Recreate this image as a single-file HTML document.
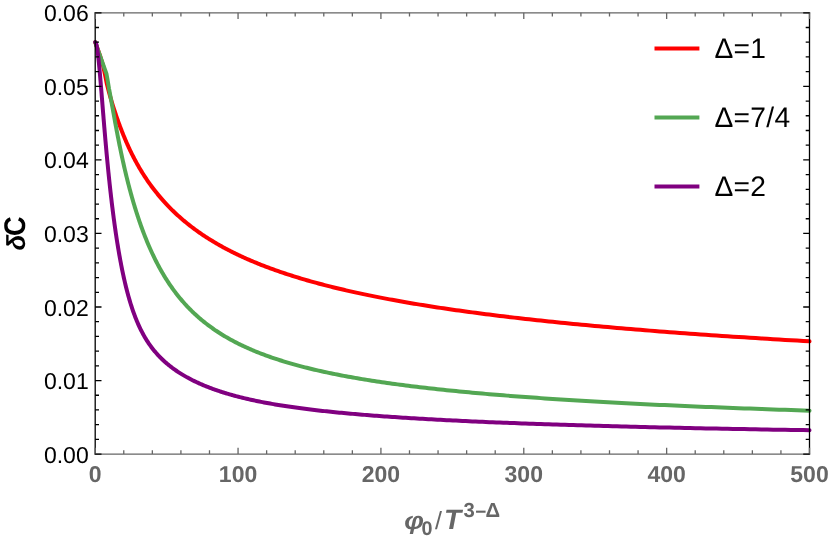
<!DOCTYPE html>
<html><head><meta charset="utf-8"><title>Chart</title>
<style>
html,body{margin:0;padding:0;background:#fff;overflow:hidden;}
svg{display:block;will-change:transform;text-rendering:geometricPrecision;font-family:"Liberation Sans",sans-serif;}
</style></head><body>
<svg width="830" height="541" viewBox="0 0 830 541">
<rect width="830" height="541" fill="#fff"/>
<path d="M95.20,42.20 L100.30,56.50 L103.20,66.00 L105.10,75.00 L106.90,84.00 L108.99,92.24 L109.20,92.98 L109.41,93.73 L109.61,94.47 L109.82,95.22 L110.04,95.96 L110.25,96.71 L110.47,97.46 L110.68,98.21 L110.90,98.96 L111.13,99.71 L111.35,100.47 L111.57,101.22 L111.80,101.98 L112.03,102.73 L112.26,103.49 L112.50,104.25 L112.73,105.01 L112.97,105.77 L113.21,106.54 L113.45,107.30 L113.69,108.07 L113.94,108.84 L114.19,109.61 L114.44,110.38 L114.69,111.15 L114.94,111.92 L115.20,112.70 L115.46,113.47 L115.72,114.25 L115.98,115.03 L116.25,115.81 L116.51,116.60 L116.78,117.38 L117.06,118.17 L117.33,118.95 L117.61,119.74 L117.89,120.53 L118.17,121.32 L118.45,122.11 L118.74,122.91 L119.03,123.70 L119.32,124.50 L119.61,125.29 L119.91,126.09 L120.21,126.89 L120.51,127.69 L120.82,128.49 L121.12,129.29 L121.43,130.09 L121.74,130.90 L122.06,131.70 L122.38,132.51 L122.70,133.31 L123.02,134.12 L123.35,134.92 L123.68,135.73 L124.01,136.54 L124.34,137.35 L124.68,138.15 L125.02,138.96 L125.36,139.77 L125.71,140.58 L126.06,141.39 L126.41,142.20 L126.77,143.01 L127.12,143.82 L127.48,144.63 L127.85,145.44 L128.22,146.24 L128.59,147.05 L128.96,147.86 L129.34,148.67 L129.72,149.48 L130.10,150.29 L130.49,151.10 L130.88,151.90 L131.27,152.71 L131.67,153.52 L132.07,154.32 L132.48,155.13 L132.88,155.93 L133.29,156.74 L133.71,157.54 L134.13,158.34 L134.55,159.15 L134.97,159.95 L135.40,160.75 L135.84,161.55 L136.27,162.35 L136.71,163.15 L137.16,163.95 L137.60,164.75 L138.06,165.55 L138.51,166.34 L138.97,167.14 L139.43,167.93 L139.90,168.73 L140.37,169.52 L140.85,170.31 L141.33,171.10 L141.81,171.89 L142.30,172.68 L142.79,173.47 L143.29,174.26 L143.79,175.05 L144.29,175.83 L144.80,176.62 L145.32,177.40 L145.84,178.18 L146.36,178.96 L146.89,179.75 L147.42,180.53 L147.95,181.30 L148.49,182.08 L149.04,182.86 L149.59,183.64 L150.15,184.41 L150.71,185.18 L151.27,185.96 L151.84,186.73 L152.41,187.50 L152.99,188.27 L153.58,189.04 L154.17,189.80 L154.76,190.57 L155.36,191.33 L155.97,192.10 L156.58,192.86 L157.19,193.62 L157.81,194.38 L158.44,195.14 L159.07,195.90 L159.71,196.66 L160.35,197.41 L161.00,198.17 L161.65,198.92 L162.31,199.67 L162.97,200.42 L163.64,201.17 L164.32,201.92 L165.00,202.67 L165.69,203.41 L166.38,204.16 L167.08,204.90 L167.79,205.64 L168.50,206.38 L169.22,207.12 L169.94,207.86 L170.67,208.59 L171.41,209.33 L172.15,210.06 L172.90,210.79 L173.66,211.52 L174.42,212.25 L175.19,212.98 L175.96,213.71 L176.75,214.43 L177.54,215.16 L178.33,215.88 L179.13,216.60 L179.94,217.32 L180.76,218.04 L181.58,218.75 L182.41,219.47 L183.25,220.18 L184.10,220.89 L184.95,221.60 L185.81,222.31 L186.68,223.02 L187.55,223.72 L188.43,224.43 L189.32,225.13 L190.22,225.83 L191.13,226.53 L192.04,227.23 L192.96,227.92 L193.89,228.62 L194.83,229.31 L195.77,230.00 L196.72,230.69 L197.69,231.38 L198.65,232.06 L199.63,232.75 L200.62,233.43 L201.61,234.11 L202.62,234.79 L203.63,235.47 L204.65,236.15 L205.68,236.82 L206.72,237.49 L207.77,238.17 L208.82,238.83 L209.89,239.50 L210.96,240.17 L212.05,240.83 L213.14,241.49 L214.24,242.16 L215.35,242.81 L216.48,243.47 L217.61,244.13 L218.75,244.78 L219.90,245.43 L221.06,246.08 L222.23,246.73 L223.41,247.38 L224.61,248.02 L225.81,248.67 L227.02,249.31 L228.24,249.95 L229.47,250.59 L230.72,251.22 L231.97,251.86 L233.24,252.49 L234.51,253.12 L235.80,253.75 L237.10,254.38 L238.41,255.00 L239.73,255.63 L241.06,256.25 L242.40,256.87 L243.76,257.49 L245.12,258.10 L246.50,258.72 L247.89,259.33 L249.30,259.94 L250.71,260.55 L252.14,261.16 L253.58,261.76 L255.03,262.37 L256.49,262.97 L257.97,263.57 L259.46,264.17 L260.96,264.77 L262.47,265.36 L264.00,265.95 L265.54,266.55 L267.10,267.14 L268.66,267.72 L270.25,268.31 L271.84,268.89 L273.45,269.48 L275.07,270.06 L276.71,270.64 L278.36,271.21 L280.02,271.79 L281.70,272.36 L283.40,272.94 L285.11,273.51 L286.83,274.07 L288.57,274.64 L290.32,275.21 L292.09,275.77 L293.87,276.33 L295.67,276.89 L297.48,277.45 L299.31,278.00 L301.16,278.56 L303.02,279.11 L304.90,279.66 L306.79,280.21 L308.70,280.76 L310.63,281.31 L312.57,281.85 L314.53,282.39 L316.51,282.93 L318.50,283.47 L320.51,284.01 L322.54,284.54 L324.59,285.08 L326.65,285.61 L328.73,286.14 L330.83,286.67 L332.95,287.20 L335.08,287.72 L337.24,288.25 L339.41,288.77 L341.60,289.29 L343.81,289.81 L346.04,290.33 L348.29,290.84 L350.55,291.35 L352.84,291.87 L355.15,292.38 L357.47,292.89 L359.82,293.39 L362.19,293.90 L364.58,294.40 L366.98,294.91 L369.41,295.41 L371.86,295.91 L374.33,296.40 L376.83,296.90 L379.34,297.39 L381.87,297.89 L384.43,298.38 L387.01,298.87 L389.61,299.35 L392.24,299.84 L394.88,300.33 L397.55,300.81 L400.24,301.29 L402.96,301.77 L405.70,302.25 L408.46,302.73 L411.25,303.20 L414.06,303.68 L416.89,304.15 L419.75,304.62 L422.63,305.09 L425.54,305.56 L428.48,306.02 L431.44,306.49 L434.42,306.95 L437.43,307.41 L440.47,307.87 L443.53,308.33 L446.62,308.79 L449.73,309.24 L452.87,309.70 L456.04,310.15 L459.24,310.60 L462.46,311.05 L465.71,311.50 L468.99,311.95 L472.30,312.39 L475.64,312.84 L479.00,313.28 L482.40,313.72 L485.82,314.16 L489.28,314.60 L492.76,315.04 L496.27,315.47 L499.81,315.91 L503.39,316.34 L506.99,316.77 L510.63,317.20 L514.30,317.63 L517.99,318.06 L521.72,318.48 L525.49,318.91 L529.28,319.33 L533.11,319.75 L536.97,320.17 L540.86,320.59 L544.79,321.01 L548.75,321.42 L552.75,321.84 L556.78,322.25 L560.84,322.66 L564.94,323.07 L569.08,323.48 L573.25,323.89 L577.46,324.30 L581.70,324.70 L585.98,325.11 L590.29,325.51 L594.65,325.91 L599.04,326.31 L603.47,326.71 L607.93,327.11 L612.44,327.50 L616.98,327.90 L621.57,328.29 L626.19,328.68 L630.85,329.08 L635.56,329.47 L640.30,329.85 L645.09,330.24 L649.91,330.63 L654.78,331.01 L659.69,331.40 L664.64,331.78 L669.63,332.16 L674.67,332.54 L679.75,332.92 L684.88,333.30 L690.05,333.67 L695.26,334.05 L700.52,334.42 L705.82,334.79 L711.17,335.16 L716.57,335.53 L722.01,335.90 L727.50,336.27 L733.03,336.64 L738.62,337.00 L744.25,337.37 L749.93,337.73 L755.66,338.09 L761.44,338.45 L767.27,338.81 L773.15,339.17 L779.08,339.53 L785.06,339.88 L791.09,340.24 L797.17,340.59 L803.31,340.95 L809.50,341.30" fill="none" stroke="#ff0000" stroke-width="4" stroke-linejoin="round" stroke-linecap="round"/>
<path d="M95.20,42.20 L106.50,74.00 L107.50,79.50 L108.99,88.54 L109.20,89.61 L109.41,90.70 L109.61,91.81 L109.82,92.94 L110.04,94.08 L110.25,95.24 L110.47,96.41 L110.68,97.60 L110.90,98.81 L111.13,100.03 L111.35,101.26 L111.57,102.51 L111.80,103.77 L112.03,105.04 L112.26,106.33 L112.50,107.62 L112.73,108.93 L112.97,110.25 L113.21,111.58 L113.45,112.92 L113.69,114.26 L113.94,115.62 L114.19,116.99 L114.44,118.36 L114.69,119.74 L114.94,121.13 L115.20,122.52 L115.46,123.93 L115.72,125.33 L115.98,126.75 L116.25,128.17 L116.51,129.59 L116.78,131.02 L117.06,132.45 L117.33,133.89 L117.61,135.33 L117.89,136.77 L118.17,138.22 L118.45,139.67 L118.74,141.12 L119.03,142.58 L119.32,144.03 L119.61,145.49 L119.91,146.95 L120.21,148.41 L120.51,149.88 L120.82,151.34 L121.12,152.80 L121.43,154.27 L121.74,155.73 L122.06,157.20 L122.38,158.66 L122.70,160.13 L123.02,161.59 L123.35,163.05 L123.68,164.52 L124.01,165.98 L124.34,167.44 L124.68,168.90 L125.02,170.36 L125.36,171.82 L125.71,173.28 L126.06,174.73 L126.41,176.18 L126.77,177.64 L127.12,179.09 L127.48,180.53 L127.85,181.98 L128.22,183.42 L128.59,184.87 L128.96,186.30 L129.34,187.74 L129.72,189.18 L130.10,190.61 L130.49,192.04 L130.88,193.46 L131.27,194.89 L131.67,196.31 L132.07,197.73 L132.48,199.14 L132.88,200.56 L133.29,201.96 L133.71,203.37 L134.13,204.77 L134.55,206.17 L134.97,207.57 L135.40,208.96 L135.84,210.35 L136.27,211.73 L136.71,213.11 L137.16,214.49 L137.60,215.87 L138.06,217.23 L138.51,218.60 L138.97,219.96 L139.43,221.32 L139.90,222.67 L140.37,224.02 L140.85,225.37 L141.33,226.71 L141.81,228.04 L142.30,229.38 L142.79,230.70 L143.29,232.02 L143.79,233.34 L144.29,234.66 L144.80,235.96 L145.32,237.27 L145.84,238.56 L146.36,239.86 L146.89,241.15 L147.42,242.43 L147.95,243.71 L148.49,244.98 L149.04,246.25 L149.59,247.51 L150.15,248.77 L150.71,250.02 L151.27,251.27 L151.84,252.51 L152.41,253.74 L152.99,254.97 L153.58,256.19 L154.17,257.41 L154.76,258.62 L155.36,259.83 L155.97,261.03 L156.58,262.23 L157.19,263.41 L157.81,264.60 L158.44,265.77 L159.07,266.95 L159.71,268.11 L160.35,269.27 L161.00,270.42 L161.65,271.57 L162.31,272.71 L162.97,273.84 L163.64,274.97 L164.32,276.09 L165.00,277.21 L165.69,278.32 L166.38,279.42 L167.08,280.51 L167.79,281.60 L168.50,282.69 L169.22,283.76 L169.94,284.84 L170.67,285.90 L171.41,286.96 L172.15,288.01 L172.90,289.05 L173.66,290.09 L174.42,291.13 L175.19,292.15 L175.96,293.17 L176.75,294.18 L177.54,295.19 L178.33,296.19 L179.13,297.18 L179.94,298.17 L180.76,299.15 L181.58,300.12 L182.41,301.09 L183.25,302.05 L184.10,303.01 L184.95,303.96 L185.81,304.90 L186.68,305.83 L187.55,306.76 L188.43,307.69 L189.32,308.60 L190.22,309.51 L191.13,310.42 L192.04,311.31 L192.96,312.20 L193.89,313.09 L194.83,313.97 L195.77,314.84 L196.72,315.71 L197.69,316.57 L198.65,317.42 L199.63,318.27 L200.62,319.11 L201.61,319.95 L202.62,320.78 L203.63,321.60 L204.65,322.42 L205.68,323.23 L206.72,324.04 L207.77,324.84 L208.82,325.63 L209.89,326.42 L210.96,327.20 L212.05,327.98 L213.14,328.75 L214.24,329.52 L215.35,330.28 L216.48,331.03 L217.61,331.78 L218.75,332.52 L219.90,333.26 L221.06,333.99 L222.23,334.72 L223.41,335.44 L224.61,336.16 L225.81,336.87 L227.02,337.57 L228.24,338.27 L229.47,338.97 L230.72,339.66 L231.97,340.34 L233.24,341.02 L234.51,341.69 L235.80,342.36 L237.10,343.03 L238.41,343.69 L239.73,344.34 L241.06,344.99 L242.40,345.63 L243.76,346.27 L245.12,346.91 L246.50,347.54 L247.89,348.16 L249.30,348.78 L250.71,349.40 L252.14,350.01 L253.58,350.61 L255.03,351.22 L256.49,351.81 L257.97,352.41 L259.46,352.99 L260.96,353.58 L262.47,354.16 L264.00,354.73 L265.54,355.30 L267.10,355.87 L268.66,356.43 L270.25,356.99 L271.84,357.54 L273.45,358.09 L275.07,358.64 L276.71,359.18 L278.36,359.72 L280.02,360.25 L281.70,360.78 L283.40,361.31 L285.11,361.83 L286.83,362.35 L288.57,362.86 L290.32,363.37 L292.09,363.88 L293.87,364.38 L295.67,364.88 L297.48,365.38 L299.31,365.87 L301.16,366.36 L303.02,366.85 L304.90,367.33 L306.79,367.80 L308.70,368.28 L310.63,368.75 L312.57,369.22 L314.53,369.68 L316.51,370.14 L318.50,370.60 L320.51,371.05 L322.54,371.51 L324.59,371.95 L326.65,372.40 L328.73,372.84 L330.83,373.28 L332.95,373.71 L335.08,374.15 L337.24,374.57 L339.41,375.00 L341.60,375.42 L343.81,375.84 L346.04,376.26 L348.29,376.67 L350.55,377.09 L352.84,377.49 L355.15,377.90 L357.47,378.30 L359.82,378.70 L362.19,379.10 L364.58,379.49 L366.98,379.88 L369.41,380.27 L371.86,380.66 L374.33,381.04 L376.83,381.42 L379.34,381.80 L381.87,382.18 L384.43,382.55 L387.01,382.92 L389.61,383.29 L392.24,383.66 L394.88,384.02 L397.55,384.38 L400.24,384.74 L402.96,385.09 L405.70,385.45 L408.46,385.80 L411.25,386.15 L414.06,386.49 L416.89,386.84 L419.75,387.18 L422.63,387.52 L425.54,387.86 L428.48,388.19 L431.44,388.53 L434.42,388.86 L437.43,389.19 L440.47,389.51 L443.53,389.84 L446.62,390.16 L449.73,390.48 L452.87,390.80 L456.04,391.11 L459.24,391.43 L462.46,391.74 L465.71,392.05 L468.99,392.36 L472.30,392.66 L475.64,392.97 L479.00,393.27 L482.40,393.57 L485.82,393.87 L489.28,394.16 L492.76,394.46 L496.27,394.75 L499.81,395.04 L503.39,395.33 L506.99,395.62 L510.63,395.91 L514.30,396.19 L517.99,396.47 L521.72,396.75 L525.49,397.03 L529.28,397.31 L533.11,397.58 L536.97,397.85 L540.86,398.13 L544.79,398.40 L548.75,398.67 L552.75,398.93 L556.78,399.20 L560.84,399.46 L564.94,399.72 L569.08,399.98 L573.25,400.24 L577.46,400.50 L581.70,400.75 L585.98,401.01 L590.29,401.26 L594.65,401.51 L599.04,401.76 L603.47,402.01 L607.93,402.26 L612.44,402.50 L616.98,402.75 L621.57,402.99 L626.19,403.23 L630.85,403.47 L635.56,403.71 L640.30,403.94 L645.09,404.18 L649.91,404.41 L654.78,404.65 L659.69,404.88 L664.64,405.11 L669.63,405.34 L674.67,405.56 L679.75,405.79 L684.88,406.01 L690.05,406.24 L695.26,406.46 L700.52,406.68 L705.82,406.90 L711.17,407.12 L716.57,407.34 L722.01,407.55 L727.50,407.77 L733.03,407.98 L738.62,408.19 L744.25,408.40 L749.93,408.61 L755.66,408.82 L761.44,409.03 L767.27,409.24 L773.15,409.44 L779.08,409.65 L785.06,409.85 L791.09,410.05 L797.17,410.25 L803.31,410.45 L809.50,410.65" fill="none" stroke="#53a753" stroke-width="4" stroke-linejoin="round" stroke-linecap="round"/>
<path d="M95.20,42.20 L95.29,42.21 L95.37,42.25 L95.46,42.32 L95.55,42.41 L95.64,42.53 L95.73,42.67 L95.82,42.85 L95.91,43.05 L96.00,43.29 L96.10,43.55 L96.19,43.85 L96.28,44.17 L96.38,44.53 L96.48,44.92 L96.57,45.35 L96.67,45.80 L96.77,46.29 L96.87,46.82 L96.97,47.37 L97.07,47.97 L97.17,48.59 L97.28,49.25 L97.38,49.95 L97.49,50.68 L97.59,51.44 L97.70,52.24 L97.81,53.08 L97.92,53.95 L98.03,54.85 L98.14,55.79 L98.25,56.77 L98.36,57.78 L98.47,58.82 L98.59,59.90 L98.70,61.01 L98.82,62.15 L98.94,63.33 L99.06,64.54 L99.18,65.78 L99.30,67.05 L99.42,68.35 L99.54,69.69 L99.66,71.05 L99.79,72.45 L99.91,73.87 L100.04,75.32 L100.17,76.80 L100.30,78.30 L100.43,79.83 L100.56,81.38 L100.69,82.96 L100.82,84.57 L100.96,86.19 L101.10,87.84 L101.23,89.51 L101.37,91.21 L101.51,92.92 L101.65,94.65 L101.79,96.40 L101.94,98.16 L102.08,99.95 L102.23,101.75 L102.37,103.56 L102.52,105.39 L102.67,107.24 L102.82,109.09 L102.97,110.96 L103.12,112.84 L103.28,114.74 L103.44,116.64 L103.59,118.55 L103.75,120.47 L103.91,122.40 L104.07,124.34 L104.23,126.29 L104.40,128.24 L104.56,130.19 L104.73,132.16 L104.90,134.13 L105.07,136.10 L105.24,138.07 L105.41,140.05 L105.59,142.03 L105.76,144.02 L105.94,146.01 L106.12,147.99 L106.30,149.98 L106.48,151.97 L106.66,153.96 L106.85,155.95 L107.04,157.94 L107.22,159.93 L107.41,161.92 L107.61,163.90 L107.80,165.89 L107.99,167.87 L108.19,169.85 L108.39,171.83 L108.59,173.80 L108.79,175.77 L108.99,177.74 L109.20,179.70 L109.41,181.66 L109.61,183.62 L109.82,185.57 L110.04,187.52 L110.25,189.46 L110.47,191.40 L110.68,193.33 L110.90,195.26 L111.13,197.18 L111.35,199.09 L111.57,201.00 L111.80,202.91 L112.03,204.80 L112.26,206.69 L112.50,208.58 L112.73,210.46 L112.97,212.33 L113.21,214.19 L113.45,216.05 L113.69,217.90 L113.94,219.74 L114.19,221.58 L114.44,223.40 L114.69,225.22 L114.94,227.03 L115.20,228.84 L115.46,230.63 L115.72,232.42 L115.98,234.20 L116.25,235.96 L116.51,237.72 L116.78,239.48 L117.06,241.22 L117.33,242.95 L117.61,244.67 L117.89,246.39 L118.17,248.09 L118.45,249.79 L118.74,251.47 L119.03,253.14 L119.32,254.81 L119.61,256.46 L119.91,258.10 L120.21,259.74 L120.51,261.36 L120.82,262.97 L121.12,264.57 L121.43,266.16 L121.74,267.74 L122.06,269.30 L122.38,270.86 L122.70,272.40 L123.02,273.93 L123.35,275.45 L123.68,276.96 L124.01,278.45 L124.34,279.94 L124.68,281.41 L125.02,282.87 L125.36,284.31 L125.71,285.75 L126.06,287.17 L126.41,288.58 L126.77,289.97 L127.12,291.36 L127.48,292.73 L127.85,294.08 L128.22,295.43 L128.59,296.76 L128.96,298.08 L129.34,299.39 L129.72,300.68 L130.10,301.96 L130.49,303.23 L130.88,304.48 L131.27,305.72 L131.67,306.95 L132.07,308.16 L132.48,309.37 L132.88,310.55 L133.29,311.73 L133.71,312.89 L134.13,314.04 L134.55,315.18 L134.97,316.31 L135.40,317.42 L135.84,318.52 L136.27,319.60 L136.71,320.68 L137.16,321.74 L137.60,322.79 L138.06,323.83 L138.51,324.85 L138.97,325.87 L139.43,326.87 L139.90,327.86 L140.37,328.84 L140.85,329.81 L141.33,330.76 L141.81,331.71 L142.30,332.64 L142.79,333.56 L143.29,334.47 L143.79,335.38 L144.29,336.27 L144.80,337.15 L145.32,338.02 L145.84,338.87 L146.36,339.72 L146.89,340.56 L147.42,341.39 L147.95,342.21 L148.49,343.03 L149.04,343.83 L149.59,344.62 L150.15,345.40 L150.71,346.18 L151.27,346.95 L151.84,347.70 L152.41,348.45 L152.99,349.20 L153.58,349.93 L154.17,350.65 L154.76,351.37 L155.36,352.08 L155.97,352.79 L156.58,353.48 L157.19,354.17 L157.81,354.85 L158.44,355.53 L159.07,356.19 L159.71,356.85 L160.35,357.51 L161.00,358.16 L161.65,358.80 L162.31,359.44 L162.97,360.07 L163.64,360.69 L164.32,361.31 L165.00,361.92 L165.69,362.53 L166.38,363.13 L167.08,363.72 L167.79,364.31 L168.50,364.90 L169.22,365.48 L169.94,366.06 L170.67,366.63 L171.41,367.19 L172.15,367.75 L172.90,368.31 L173.66,368.86 L174.42,369.41 L175.19,369.95 L175.96,370.49 L176.75,371.02 L177.54,371.55 L178.33,372.08 L179.13,372.60 L179.94,373.12 L180.76,373.63 L181.58,374.14 L182.41,374.65 L183.25,375.15 L184.10,375.65 L184.95,376.14 L185.81,376.63 L186.68,377.12 L187.55,377.60 L188.43,378.08 L189.32,378.56 L190.22,379.03 L191.13,379.50 L192.04,379.97 L192.96,380.43 L193.89,380.89 L194.83,381.35 L195.77,381.80 L196.72,382.25 L197.69,382.69 L198.65,383.14 L199.63,383.58 L200.62,384.01 L201.61,384.45 L202.62,384.88 L203.63,385.30 L204.65,385.73 L205.68,386.15 L206.72,386.57 L207.77,386.98 L208.82,387.39 L209.89,387.80 L210.96,388.21 L212.05,388.61 L213.14,389.01 L214.24,389.41 L215.35,389.80 L216.48,390.19 L217.61,390.58 L218.75,390.97 L219.90,391.35 L221.06,391.73 L222.23,392.10 L223.41,392.48 L224.61,392.85 L225.81,393.22 L227.02,393.58 L228.24,393.94 L229.47,394.30 L230.72,394.66 L231.97,395.02 L233.24,395.37 L234.51,395.72 L235.80,396.06 L237.10,396.40 L238.41,396.74 L239.73,397.08 L241.06,397.42 L242.40,397.75 L243.76,398.08 L245.12,398.41 L246.50,398.73 L247.89,399.05 L249.30,399.37 L250.71,399.69 L252.14,400.00 L253.58,400.31 L255.03,400.62 L256.49,400.93 L257.97,401.23 L259.46,401.54 L260.96,401.84 L262.47,402.13 L264.00,402.43 L265.54,402.72 L267.10,403.01 L268.66,403.29 L270.25,403.58 L271.84,403.86 L273.45,404.14 L275.07,404.42 L276.71,404.70 L278.36,404.97 L280.02,405.24 L281.70,405.51 L283.40,405.77 L285.11,406.04 L286.83,406.30 L288.57,406.56 L290.32,406.82 L292.09,407.08 L293.87,407.33 L295.67,407.58 L297.48,407.83 L299.31,408.08 L301.16,408.33 L303.02,408.57 L304.90,408.81 L306.79,409.05 L308.70,409.29 L310.63,409.52 L312.57,409.76 L314.53,409.99 L316.51,410.22 L318.50,410.45 L320.51,410.68 L322.54,410.90 L324.59,411.13 L326.65,411.35 L328.73,411.57 L330.83,411.79 L332.95,412.00 L335.08,412.22 L337.24,412.43 L339.41,412.65 L341.60,412.86 L343.81,413.06 L346.04,413.27 L348.29,413.48 L350.55,413.68 L352.84,413.88 L355.15,414.08 L357.47,414.28 L359.82,414.48 L362.19,414.68 L364.58,414.88 L366.98,415.07 L369.41,415.26 L371.86,415.45 L374.33,415.64 L376.83,415.83 L379.34,416.02 L381.87,416.20 L384.43,416.39 L387.01,416.57 L389.61,416.75 L392.24,416.94 L394.88,417.12 L397.55,417.29 L400.24,417.47 L402.96,417.65 L405.70,417.82 L408.46,417.99 L411.25,418.17 L414.06,418.34 L416.89,418.51 L419.75,418.68 L422.63,418.84 L425.54,419.01 L428.48,419.18 L431.44,419.34 L434.42,419.51 L437.43,419.67 L440.47,419.83 L443.53,419.99 L446.62,420.15 L449.73,420.31 L452.87,420.46 L456.04,420.62 L459.24,420.77 L462.46,420.93 L465.71,421.08 L468.99,421.23 L472.30,421.38 L475.64,421.53 L479.00,421.68 L482.40,421.83 L485.82,421.98 L489.28,422.13 L492.76,422.27 L496.27,422.42 L499.81,422.56 L503.39,422.70 L506.99,422.84 L510.63,422.98 L514.30,423.12 L517.99,423.26 L521.72,423.40 L525.49,423.54 L529.28,423.68 L533.11,423.81 L536.97,423.95 L540.86,424.08 L544.79,424.21 L548.75,424.35 L552.75,424.48 L556.78,424.61 L560.84,424.74 L564.94,424.87 L569.08,425.00 L573.25,425.12 L577.46,425.25 L581.70,425.37 L585.98,425.50 L590.29,425.62 L594.65,425.75 L599.04,425.87 L603.47,425.99 L607.93,426.11 L612.44,426.23 L616.98,426.35 L621.57,426.47 L626.19,426.59 L630.85,426.71 L635.56,426.83 L640.30,426.94 L645.09,427.06 L649.91,427.17 L654.78,427.29 L659.69,427.40 L664.64,427.51 L669.63,427.62 L674.67,427.74 L679.75,427.85 L684.88,427.96 L690.05,428.06 L695.26,428.17 L700.52,428.28 L705.82,428.39 L711.17,428.49 L716.57,428.60 L722.01,428.71 L727.50,428.81 L733.03,428.91 L738.62,429.02 L744.25,429.12 L749.93,429.22 L755.66,429.32 L761.44,429.43 L767.27,429.53 L773.15,429.63 L779.08,429.72 L785.06,429.82 L791.09,429.92 L797.17,430.02 L803.31,430.11 L809.50,430.21" fill="none" stroke="#800080" stroke-width="4" stroke-linejoin="round" stroke-linecap="round"/>
<path d="M95.2,12.15 V454.75 M809.5,12.15 V454.75" fill="none" stroke="#000" stroke-width="1.3"/>
<path d="M94.55,454.1 H810.15 M94.55,12.8 H810.15" fill="none" stroke="#666666" stroke-width="1.3"/>
<path d="M95.20,454.1 v-6.3 M95.20,12.8 v6.3 M123.77,454.1 v-3.8 M123.77,12.8 v3.8 M152.34,454.1 v-3.8 M152.34,12.8 v3.8 M180.92,454.1 v-3.8 M180.92,12.8 v3.8 M209.49,454.1 v-3.8 M209.49,12.8 v3.8 M238.06,454.1 v-6.3 M238.06,12.8 v6.3 M266.63,454.1 v-3.8 M266.63,12.8 v3.8 M295.20,454.1 v-3.8 M295.20,12.8 v3.8 M323.78,454.1 v-3.8 M323.78,12.8 v3.8 M352.35,454.1 v-3.8 M352.35,12.8 v3.8 M380.92,454.1 v-6.3 M380.92,12.8 v6.3 M409.49,454.1 v-3.8 M409.49,12.8 v3.8 M438.06,454.1 v-3.8 M438.06,12.8 v3.8 M466.64,454.1 v-3.8 M466.64,12.8 v3.8 M495.21,454.1 v-3.8 M495.21,12.8 v3.8 M523.78,454.1 v-6.3 M523.78,12.8 v6.3 M552.35,454.1 v-3.8 M552.35,12.8 v3.8 M580.92,454.1 v-3.8 M580.92,12.8 v3.8 M609.50,454.1 v-3.8 M609.50,12.8 v3.8 M638.07,454.1 v-3.8 M638.07,12.8 v3.8 M666.64,454.1 v-6.3 M666.64,12.8 v6.3 M695.21,454.1 v-3.8 M695.21,12.8 v3.8 M723.78,454.1 v-3.8 M723.78,12.8 v3.8 M752.36,454.1 v-3.8 M752.36,12.8 v3.8 M780.93,454.1 v-3.8 M780.93,12.8 v3.8 M809.50,454.1 v-6.3 M809.50,12.8 v6.3" fill="none" stroke="#666666" stroke-width="1.3"/>
<path d="M95.2,454.10 h6.3 M809.5,454.10 h-6.3 M95.2,439.39 h3.8 M809.5,439.39 h-3.8 M95.2,424.68 h3.8 M809.5,424.68 h-3.8 M95.2,409.97 h3.8 M809.5,409.97 h-3.8 M95.2,395.26 h3.8 M809.5,395.26 h-3.8 M95.2,380.55 h6.3 M809.5,380.55 h-6.3 M95.2,365.84 h3.8 M809.5,365.84 h-3.8 M95.2,351.13 h3.8 M809.5,351.13 h-3.8 M95.2,336.42 h3.8 M809.5,336.42 h-3.8 M95.2,321.71 h3.8 M809.5,321.71 h-3.8 M95.2,307.00 h6.3 M809.5,307.00 h-6.3 M95.2,292.29 h3.8 M809.5,292.29 h-3.8 M95.2,277.58 h3.8 M809.5,277.58 h-3.8 M95.2,262.87 h3.8 M809.5,262.87 h-3.8 M95.2,248.16 h3.8 M809.5,248.16 h-3.8 M95.2,233.45 h6.3 M809.5,233.45 h-6.3 M95.2,218.74 h3.8 M809.5,218.74 h-3.8 M95.2,204.03 h3.8 M809.5,204.03 h-3.8 M95.2,189.32 h3.8 M809.5,189.32 h-3.8 M95.2,174.61 h3.8 M809.5,174.61 h-3.8 M95.2,159.90 h6.3 M809.5,159.90 h-6.3 M95.2,145.19 h3.8 M809.5,145.19 h-3.8 M95.2,130.48 h3.8 M809.5,130.48 h-3.8 M95.2,115.77 h3.8 M809.5,115.77 h-3.8 M95.2,101.06 h3.8 M809.5,101.06 h-3.8 M95.2,86.35 h6.3 M809.5,86.35 h-6.3 M95.2,71.64 h3.8 M809.5,71.64 h-3.8 M95.2,56.93 h3.8 M809.5,56.93 h-3.8 M95.2,42.22 h3.8 M809.5,42.22 h-3.8 M95.2,27.51 h3.8 M809.5,27.51 h-3.8 M95.2,12.80 h6.3 M809.5,12.80 h-6.3" fill="none" stroke="#000" stroke-width="1.3"/>
<text x="88.7" y="462.65" text-anchor="end" font-size="23" fill="#000">0.00</text>
<text x="88.7" y="389.10" text-anchor="end" font-size="23" fill="#000">0.01</text>
<text x="88.7" y="315.55" text-anchor="end" font-size="23" fill="#000">0.02</text>
<text x="88.7" y="242.00" text-anchor="end" font-size="23" fill="#000">0.03</text>
<text x="88.7" y="168.45" text-anchor="end" font-size="23" fill="#000">0.04</text>
<text x="88.7" y="94.90" text-anchor="end" font-size="23" fill="#000">0.05</text>
<text x="88.7" y="21.35" text-anchor="end" font-size="23" fill="#000">0.06</text>
<text x="95.20" y="482.3" text-anchor="middle" font-size="23" font-weight="bold" fill="#666666">0</text>
<text x="238.06" y="482.3" text-anchor="middle" font-size="23" font-weight="bold" fill="#666666">100</text>
<text x="380.92" y="482.3" text-anchor="middle" font-size="23" font-weight="bold" fill="#666666">200</text>
<text x="523.78" y="482.3" text-anchor="middle" font-size="23" font-weight="bold" fill="#666666">300</text>
<text x="666.64" y="482.3" text-anchor="middle" font-size="23" font-weight="bold" fill="#666666">400</text>
<text x="809.50" y="482.3" text-anchor="middle" font-size="23" font-weight="bold" fill="#666666">500</text>
<g transform="translate(24.5,250) rotate(-90)" font-weight="bold" fill="#000"><text x="-0.5" y="0" font-size="26" font-style="italic">δ</text><text transform="translate(14.0,0) scale(0.97,1.065)" x="0" y="0" font-size="28">C</text></g>
<g font-weight="bold" fill="#666666">
<text transform="translate(404.3,529.4) scale(1,0.88)" font-size="28" font-style="italic">φ</text>
<text x="421.4" y="534.5" font-size="19.8">0</text>
<text x="435.0" y="529.4" font-size="25" font-weight="normal">/</text>
<text x="444.1" y="529.3" font-size="28" font-style="italic">T</text>
<text x="463.4" y="516.9" font-size="20.3">3</text>
<text x="475.3" y="518.0" font-size="19">−</text>
<text x="485.5" y="516.9" font-size="20.3">Δ</text>
</g>
<path d="M654.5,48.50 H699.4" stroke="#ff0000" stroke-width="4" fill="none"/>
<text x="714.4" y="58.00" font-size="28.2" letter-spacing="0.3" fill="#000">Δ=1</text>
<path d="M654.5,117.45 H699.4" stroke="#53a753" stroke-width="4" fill="none"/>
<text x="714.4" y="126.95" font-size="28.2" letter-spacing="0.3" fill="#000">Δ=7/4</text>
<path d="M654.5,186.40 H699.4" stroke="#800080" stroke-width="4" fill="none"/>
<text x="714.4" y="195.90" font-size="28.2" letter-spacing="0.3" fill="#000">Δ=2</text>
</svg>
</body></html>
